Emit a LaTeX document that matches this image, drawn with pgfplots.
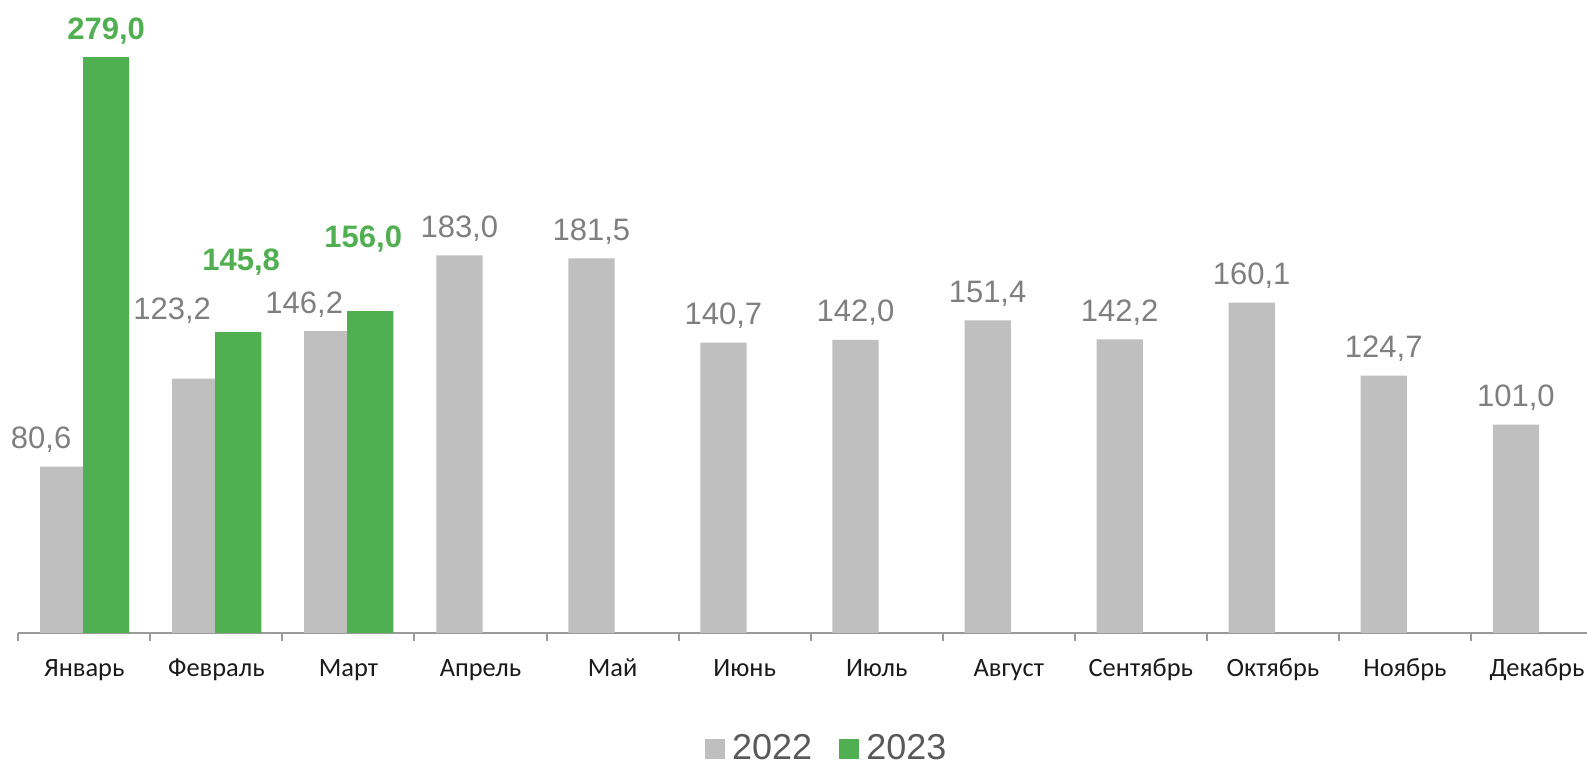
\documentclass[border=0pt]{standalone}
\usepackage{fontspec}
\setmainfont{Liberation Sans}
\newfontfamily\calfont{Carlito}
\usepackage{pgfplots}
\usepackage{pgfplotstable}
\pgfplotsset{compat=1.18}

\definecolor{barGray}{HTML}{BFBFBF}
\definecolor{barGreen}{HTML}{50AF50}
\definecolor{labelGray}{HTML}{7F7F7F}
\definecolor{tickBlack}{HTML}{1A1A1A}
\definecolor{axisGray}{HTML}{9A9A9A}
\definecolor{legendGray}{HTML}{595959}

% x = month index, y = value, dx/dy = extra label offsets (pt)
\pgfplotstableread{
x y dx dy
0 80.6 -11 0
1 123.2 -11.5 20.5
2 146.2 -11.5 0
3 183.0 0 0
4 181.5 0 0
5 140.7 0 0
6 142.0 0 0
7 151.4 0 0
8 142.2 0 0
9 160.1 0 0
10 124.7 0 0
11 101.0 0 0
}\yeartwentytwo

\pgfplotstableread{
x y dx dy
0 279.0 0 0
1 145.8 1.5 22
2 156.0 -3.5 23
}\yeartwentythree

\begin{document}
\begin{tikzpicture}
\begin{axis}[
  scale only axis,
  width=784.35pt, height=309.6pt,
  xmin=-0.5, xmax=11.3784,
  ymin=0, ymax=300,
  clip=false,
  axis x line*=bottom,
  hide y axis,
  x axis line style={axisGray, line width=1pt},
  xtick={0,...,11},
  xticklabels={Январь,Февраль,Март,Апрель,Май,Июнь,Июль,Август,Сентябрь,Октябрь,Ноябрь,Декабрь},
  major tick length=0pt,
  minor xtick={-0.5,0.5,...,10.5},
  minor tick length=4pt,
  tick align=outside,
  minor x tick style={axisGray, line width=1pt},
  xticklabel style={font=\calfont\fontsize{13.2}{15}\selectfont, text=tickBlack, anchor=base, yshift=-22pt},
  point meta=y,
  visualization depends on={\thisrow{dx} \as \labeldx},
  visualization depends on={\thisrow{dy} \as \labeldy},
  nodes near coords={\pgfmathprintnumber[assume math mode=true,fixed,fixed zerofill,precision=1,use comma]{\pgfplotspointmeta}},
  legend style={at={(0.516,-0.187)}, anchor=center, draw=none, fill=none,
    font=\fontsize{18}{21}\selectfont, text=legendGray,
    /tikz/every even column/.append style={column sep=11.5pt}},
  legend columns=2,
  legend image code/.code={\fill[#1] (0pt,-5pt) rectangle (10pt,5pt); \path (11.5pt,0pt);},
]
\addplot[ybar, bar width=0.35, bar shift=-0.16, fill=barGray, draw=none,
  nodes near coords style={font=\fontsize{15.5}{18}\selectfont, text=labelGray, anchor=base,
    inner sep=0pt, xshift=-10.6pt+\labeldx pt, yshift=9pt+\labeldy pt}]
  table[x=x, y=y] {\yeartwentytwo};
\addlegendentry{2022}
\addplot[ybar, bar width=0.35, bar shift=0.165, fill=barGreen, draw=none,
  nodes near coords style={font=\bfseries\fontsize{15.5}{18}\selectfont, text=barGreen, anchor=base,
    inner sep=0pt, xshift=10.9pt+\labeldx pt, yshift=9pt+\labeldy pt}]
  table[x=x, y=y] {\yeartwentythree};
\addlegendentry{2023}
\end{axis}
\pgfresetboundingbox
\path[use as bounding box] (-9.15pt,-65pt) rectangle (784.35pt,316.5pt);
\end{tikzpicture}
\end{document}
